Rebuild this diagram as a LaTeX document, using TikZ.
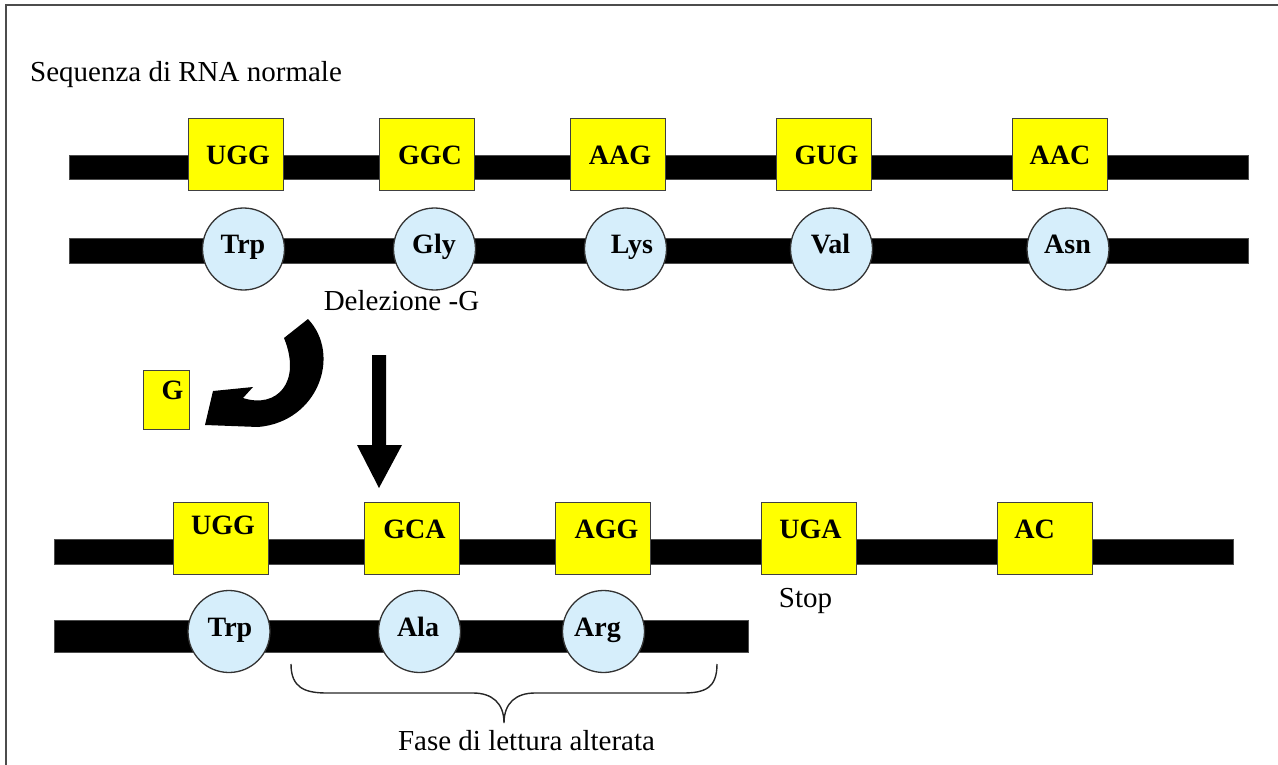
\documentclass[tikz,border=0pt]{standalone}
\usepackage{fontspec}
\setmainfont{Liberation Serif}
\definecolor{aminoblue}{RGB}{214,238,251}
\definecolor{codonyellow}{RGB}{255,255,0}
\begin{document}
\begin{tikzpicture}[x=1pt,y=-1pt,
  bar/.style={rectangle, fill=black, draw=black!70, line width=0.8pt, inner sep=0},
  codon/.style={rectangle, draw=black!75, fill=codonyellow, line width=1pt, inner sep=0, minimum width=95pt, minimum height=72pt},
  amino/.style={circle, draw=black!80, fill=aminoblue, line width=1.3pt, inner sep=0, minimum size=82pt},
  lab/.style={font=\fontsize{28}{30}\selectfont\bfseries, anchor=base, inner sep=0},
  plain/.style={font=\fontsize{29}{31}\selectfont, anchor=base, inner sep=0},
  frameline/.style={draw=black!70, line width=2pt},
  bracestyle/.style={draw=black!85, line width=1.4pt}
]
\useasboundingbox (0,0) rectangle (1278,765);
% frame
\draw[frameline] (6,765) -- (6,5) -- (1278,5);

% title
\node[plain, anchor=base west] (title) at (30,82) {Sequenza di RNA normale};

% bars
\node[bar, minimum width=1179pt, minimum height=24pt] (bar1) at (658.5,167) {};
\node[bar, minimum width=1179pt, minimum height=25pt] (bar2) at (658.5,250.5) {};
\node[bar, minimum width=1179pt, minimum height=25pt] (bar3) at (643.5,551.5) {};
\node[bar, minimum width=694pt, minimum height=32pt] (bar4) at (401,636) {};

% row 1 codons
\foreach \n/\bx/\tx/\t in {1/235.5/238/UGG, 2/427/430/GGC, 3/617.5/620/AAG, 4/823.5/826.5/GUG, 5/1059.5/1060/AAC}{
  \node[codon] (c1\n) at (\bx,155) {};
  \node[lab] (t1\n) at (\tx,165) {\t};
}
% row 2 amino acids
\foreach \n/\cx/\tx/\t in {1/243.5/243/Trp, 2/434.5/434/Gly, 3/625.5/632/Lys, 4/831.5/830.5/Val, 5/1068/1067.5/Asn}{
  \node[amino] (a2\n) at (\cx,249) {};
  \node[lab] (u2\n) at (\tx,253) {\t};
}
% row 3 codons
\foreach \n/\bx/\tx/\by/\t in {1/220.5/223/534/UGG, 2/411.5/414.5/538/GCA, 3/603/606.5/538/AGG, 4/809/810.5/538/UGA, 5/1044.5/1034.5/538/AC}{
  \node[codon] (c3\n) at (\bx,538) {};
  \node[lab] (t3\n) at (\tx,\by) {\t};
}
% row 4 amino acids
\foreach \n/\cx/\tx/\t in {1/229/230/Trp, 2/419.5/418/Ala, 3/603.5/597.5/Arg}{
  \node[amino] (a4\n) at (\cx,631.5) {};
  \node[lab] (u4\n) at (\tx,636) {\t};
}

% labels
\node[plain] (del) at (401.5,310) {Delezione -G};
\node[plain] (stop) at (805.5,607) {Stop};
\node[plain] (fase) at (526.5,750) {Fase di lettura alterata};

% removed G
\node[rectangle, draw=black!75, fill=codonyellow, line width=1pt, minimum width=46pt, minimum height=59pt, inner sep=0] (gbox) at (166,399.5) {};
\node[lab] (gtxt) at (172.5,399) {G};

% curved block arrow
\fill[black] (284,338) -- (308,319)
  .. controls (342,355) and (318,422) .. (258,427)
  -- (205,425) -- (213,391) -- (253,387) -- (243,398)
  .. controls (277,409) and (302,382) .. (284,338) -- cycle;

% straight block arrow
\fill[black] (372,355) -- (386,355) -- (386,445) -- (402,445) -- (379,488) -- (357,445) -- (372,445) -- cycle;

% brace
\coordinate (brL) at (291,664);
\coordinate (brR) at (717,664);
\coordinate (brM) at (504,723);
\draw[bracestyle] (brL) .. controls (291,688) and (305,693) .. (327,693) -- (473,693)
  .. controls (492,693) and (504,703) .. (brM)
  .. controls (504,703) and (516,693) .. (535,693) -- (683,693)
  .. controls (705,693) and (717,688) .. (brR);
\end{tikzpicture}
\end{document}
